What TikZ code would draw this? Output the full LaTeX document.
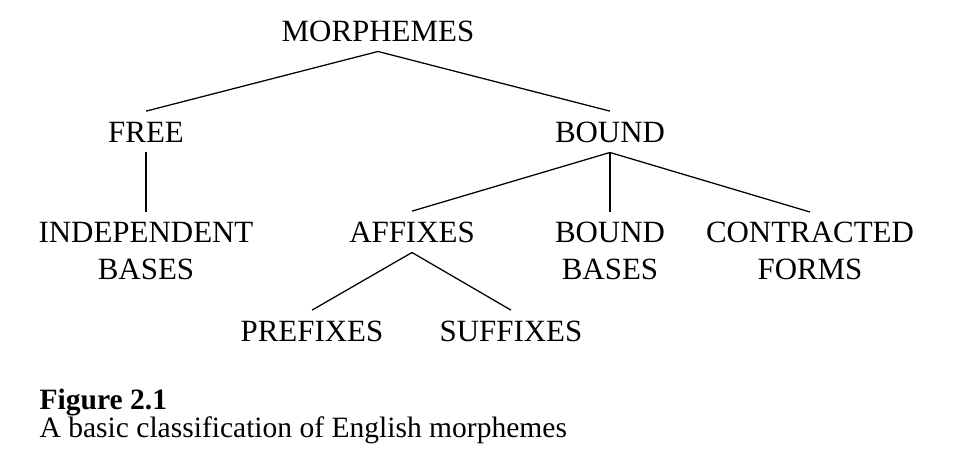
\documentclass[tikz,border=0pt]{standalone}
\usepackage{fontspec}
\setmainfont{Liberation Serif}
\usepackage{tikz}

\begin{document}
\begin{tikzpicture}[x=0.025cm, y=-0.025cm, line width=0.9pt,
    cat/.style={anchor=base, align=center, inner xsep=0pt, inner ysep=7pt,
      text height=14.5pt, text depth=0pt, font=\fontsize{22}{26}\selectfont},
    twocat/.style={cat, anchor=north, text height=, text depth=},
    capline/.style={anchor=base west, inner sep=0pt, font=\fontsize{21}{25}\selectfont}]
	\useasboundingbox (0,0) rectangle (961,450);
	% tree
	\node[cat] (morph) at (378,41) {MORPHEMES};
	\node[cat] (free) at (146,142) {FREE};
	\node[cat] (bound) at (610,142) {BOUND};
	\node[twocat] (indep) at (146,212) {INDEPENDENT\\BASES};
	\node[cat] (affix) at (412,242) {AFFIXES};
	\node[twocat] (bbases) at (610,212) {BOUND\\BASES};
	\node[twocat] (contr) at (810,212) {CONTRACTED\\FORMS};
	\node[cat] (prefix) at (312,341) {PREFIXES};
	\node[cat] (suffix) at (511,341) {SUFFIXES};
	\draw (morph.south) -- (free.north);
	\draw (morph.south) -- (bound.north);
	\draw (free.south) -- (indep.north);
	\draw (bound.south) -- (affix.north);
	\draw (bound.south) -- (bbases.north);
	\draw (bound.south) -- (contr.north);
	\draw (affix.south) -- (prefix.north);
	\draw (affix.south) -- (suffix.north);
	% caption
	\node[capline, font=\fontsize{21}{25}\selectfont\bfseries] (fig) at (39,409) {Figure 2.1};
	\node[capline] (cap) at (39,437) {A basic classification of English morphemes};
\end{tikzpicture}
\end{document}
